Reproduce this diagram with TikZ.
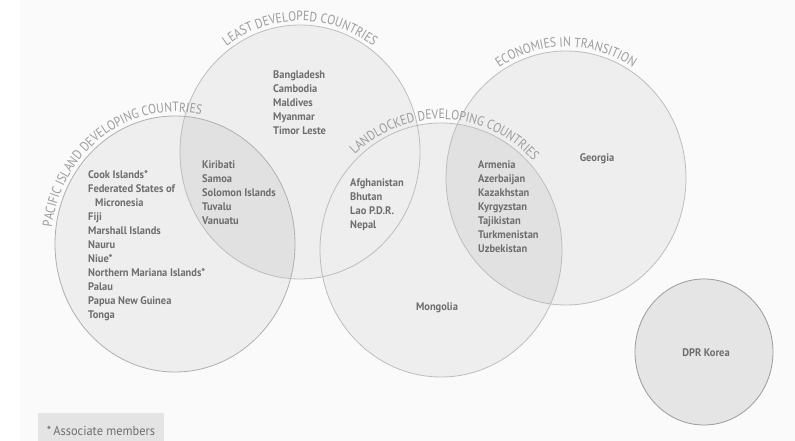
\documentclass[tikz,border=0pt]{standalone}
\usepackage{fontspec}
\usetikzlibrary{decorations.text}
\newfontfamily\labelfont{PT Sans}[FakeStretch=0.95]
\newfontfamily\arcfont{PT Sans}[FakeStretch=0.86]
\definecolor{bgc}{HTML}{FAFAFA}
\definecolor{circfill}{HTML}{EEEEEE}
\definecolor{overfill}{HTML}{E1E1E1}
\definecolor{dprfill}{HTML}{E5E5E5}
\definecolor{lineC}{HTML}{BDBDBD}
\definecolor{darkline}{HTML}{9B9B9B}
\definecolor{txt}{HTML}{6E6E6E}
\definecolor{arcgray}{HTML}{9C9C9C}
\definecolor{legfill}{HTML}{E4E4E4}
\tikzset{
  country/.style={font=\labelfont\bfseries\fontsize{11}{14}\selectfont, text=txt, inner sep=0pt, align=left, anchor=north west},
  single/.style={font=\labelfont\bfseries\fontsize{11}{14}\selectfont, text=txt, inner sep=0pt},
  ring/.style={draw=lineC, line width=0.8pt},
}
\begin{document}
\begin{tikzpicture}[x=1pt,y=1pt]
\useasboundingbox (0,0) rectangle (795,441);
\fill[white] (0,0) rectangle (795,441);
\fill[bgc] (20,0) rectangle (795,441);
% fills
\fill[circfill] (175,197) ellipse [x radius=120, y radius=128];
\fill[circfill] (300,289) ellipse [x radius=120, y radius=127];
\fill[circfill] (441,191) ellipse [x radius=121, y radius=127];
\fill[circfill] (566,263) ellipse [x radius=120, y radius=127];
\begin{scope}
  \clip (175,197) ellipse [x radius=120, y radius=128];
  \fill[overfill] (300,289) ellipse [x radius=120, y radius=127];
\end{scope}
\begin{scope}
  \clip (441,191) ellipse [x radius=121, y radius=127];
  \fill[overfill] (566,263) ellipse [x radius=120, y radius=127];
\end{scope}
% outlines
\draw[ring, draw=darkline!80] (175,197) ellipse [x radius=120, y radius=128];
\draw[ring] (300,289) ellipse [x radius=120, y radius=127];
\draw[ring] (441,191) ellipse [x radius=121, y radius=127];
\draw[ring] (566,263) ellipse [x radius=120, y radius=127];
\draw[ring, draw=darkline, fill=dprfill] (704,89) ellipse [x radius=69, y radius=73];
% arc labels
\path[decorate, decoration={text along path, text align=center, text color=arcgray,
  text={|\arcfont\fontsize{13.5}{13.5}\selectfont|LEAST DEVELOPED COUNTRIES}}]
  (300,289) ++(150:124 and 131) arc[start angle=150, end angle=30, x radius=124, y radius=131];
\path[decorate, decoration={text along path, text align=center, text color=arcgray,
  text={|\arcfont\fontsize{13.5}{13.5}\selectfont|PACIFIC ISLAND DEVELOPING COUNTRIES}}]
  (175,197) ++(182:124 and 132) arc[start angle=182, end angle=68, x radius=124, y radius=132];
\path[decorate, decoration={text along path, text align=center, text color=arcgray,
  text={|\arcfont\fontsize{13.5}{13.5}\selectfont|LANDLOCKED DEVELOPING COUNTRIES}}]
  (441,191) ++(140:125 and 131) arc[start angle=140, end angle=36, x radius=125, y radius=131];
\path[decorate, decoration={text along path, text align=center, text color=arcgray,
  text={|\arcfont\fontsize{13.5}{13.5}\selectfont|ECONOMIES IN TRANSITION}}]
  (566,263) ++(140:124 and 131) arc[start angle=140, end angle=40, x radius=124, y radius=131];
% country lists
\node[country] (ldc) at (273,370.5) {Bangladesh\\Cambodia\\Maldives\\Myanmar\\Timor Leste};
\node[country] (pac) at (88,270.5) {Cook Islands*\\Federated States of\\\hspace*{7pt}Micronesia\\Fiji\\Marshall Islands\\Nauru\\Niue*\\Northern Mariana Islands*\\Palau\\Papua New Guinea\\Tonga};
\node[country] (pacldc) at (202,280.5) {Kiribati\\Samoa\\Solomon Islands\\Tuvalu\\Vanuatu};
\node[country] (lldc) at (350,262.5) {Afghanistan\\Bhutan\\Lao P.D.R.\\Nepal};
\node[country] (lleit) at (478,280.5) {Armenia\\Azerbaijan\\Kazakhstan\\Kyrgyzstan\\Tajikistan\\Turkmenistan\\Uzbekistan};
\node[single] (geo) at (597,282) {Georgia};
\node[single] (mon) at (437,133) {Mongolia};
\node[single] (dpr) at (706,88) {DPR Korea};
% legend
\fill[legfill] (38,0) rectangle (164,28);
\node[font=\labelfont\fontsize{13}{14}\selectfont, text=txt, inner sep=0pt] (leg) at (101,10) {*\,Associate members};
\end{tikzpicture}
\end{document}
